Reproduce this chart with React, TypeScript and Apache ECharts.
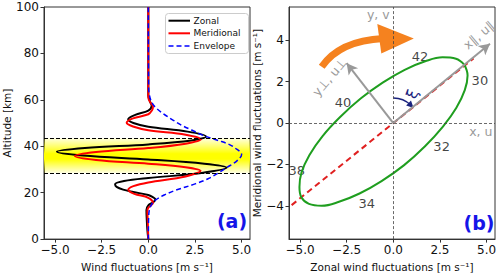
import React, { useEffect, useRef } from "react";
import * as echarts from "echarts";

// ---------- Panel (a): vertical wind profiles ----------
const zonalAlt = [0, 4, 8, 12.5, 14.5, 16, 17.2, 18.2, 19, 20.3, 21.3, 22.5, 23.6, 25, 26.3, 28.5, 30.8, 32.5, 34.3, 36, 37.6, 39.2, 40.8, 42.5, 44.2, 46.3, 48.4, 50, 51.6, 53.5, 55.4, 57.5, 59.5, 62, 100];
const zonalVal = [0, -0.05, -0.08, -0.1, 0, 0.28, 0.38, 0.22, 0, -0.8, -1.35, -1.7, -1.78, -1.3, 0, 2.85, 4.2, 3.0, 0, -3.5, -4.9, -3.4, 0, 2.3, 3.1, 2.1, 0, -0.8, -1.08, -0.7, 0, 0.18, 0.08, 0, 0];

const meridAlt = [0, 8, 12, 13.5, 15.5, 17.8, 19.5, 21.3, 22.8, 24.4, 27, 29.4, 31, 32.5, 34.1, 35.8, 37.5, 39.2, 41.1, 43.0, 45, 46.9, 48.5, 50.1, 52, 53.8, 55.5, 57, 59, 61, 100];
const meridVal = [0, -0.03, -0.05, 0, 0.25, 0, -0.75, -1.07, -0.8, 0, 2.0, 2.8, 2.0, 0, -2.8, -3.93, -2.8, 0, 2.0, 2.82, 2.0, 0, -0.82, -1.16, -0.82, 0, 0.2, 0.25, 0.1, 0, 0];

const envAlt = [0, 10, 12.6, 15, 16.8, 19, 21, 23.9, 26, 28.5, 30.8, 33.7, 36.5, 39.3, 40.7, 42.1, 43.5, 45, 47, 49, 51.2, 54, 56.8, 59, 62, 65, 100];
const envVal = [0, 0.02, 0.06, 0.18, 0.38, 0.85, 1.45, 2.55, 3.2, 3.75, 4.2, 4.75, 5.0, 4.64, 4.35, 3.9, 3.35, 2.85, 2.32, 1.8, 1.34, 0.8, 0.38, 0.18, 0.06, 0.02, 0];

const bandBottom = 28.5;
const bandTop = 43.5;

const legendNames = ["Zonal", "Meridional", "Envelope"];
const legendColors = ["#000000", "#ff0000", "#0000ff"];

const windTicks = [-5, -2.5, 0, 2.5, 5];
const meridTicks = [-4, -2, 0, 2, 4];

// ---------- Panel (b): hodograph ----------
const ellipseU = [3.81, 3.36, 2.64, 1.71, 0.61, -0.57, -1.75, -2.85, -3.8, -4.5, -4.92, -5.03, -4.93, -4.52, -3.84, -2.91, -1.81, -0.63, 0.58, 1.7, 2.66, 3.38, 3.83, 3.98, 3.81];
const ellipseV = [2.81, 3.1, 3.17, 2.98, 2.57, 1.95, 1.18, 0.29, -0.64, -1.55, -2.39, -3.09, -3.58, -3.9, -3.99, -3.8, -3.4, -2.8, -2.03, -1.12, -0.17, 0.74, 1.59, 2.3, 2.81];

const majorAxisU = [-5.45, 4.3];
const majorAxisV = [-3.96, 3.12];

const arrowParallel = [5.18, 3.83];
const arrowPerp = [-2.5, 2.89];

const hodoLabels = ["42", "30", "40", "32", "38", "34"];
const hodoLabelU = [1.43, 4.64, -2.69, 2.59, -5.17, -1.42];
const hodoLabelV = [3.22, 2.04, 1.0, -1.12, -2.3, -3.9];

const FONT = "DejaVu Sans";
const AXIS_COLOR = "#333";

const fmtMinus = (s: string) => s.replace("-", "\u2212");

function makeXAxis(gridIndex: number, name: string) {
  return {
    type: "value",
    gridIndex,
    min: -5.59,
    max: 5.45,
    axisLine: { show: true, onZero: false, lineStyle: { color: AXIS_COLOR, width: 1 } },
    axisTick: { show: true, inside: false, length: 3.5, customValues: windTicks, lineStyle: { color: AXIS_COLOR } },
    axisLabel: {
      customValues: windTicks,
      formatter: (v: number) => fmtMinus(v.toFixed(1)),
      fontSize: 12,
      fontFamily: FONT,
      color: "#111",
      margin: 5,
    },
    splitLine: { show: false },
    name,
    nameLocation: "middle",
    nameGap: 19,
    nameTextStyle: { fontSize: 10.5, fontFamily: FONT, color: "#111" },
  };
}

function buildOption() {
  const zonal = zonalAlt.map((a, i) => [zonalVal[i], a]);
  const merid = meridAlt.map((a, i) => [meridVal[i], a]);
  const env = envAlt.map((a, i) => [envVal[i], a]);
  const ellipse = ellipseU.map((u, i) => [u, ellipseV[i]]);
  const majorAxis = majorAxisU.map((u, i) => [u, majorAxisV[i]]);
  const labelsData = hodoLabels.map((n, i) => ({ name: n, value: [hodoLabelU[i], hodoLabelV[i]] }));

  return {
    animation: false,
    textStyle: { fontFamily: FONT },
    grid: [
      { left: 44, top: 7, width: 206, height: 238, show: true, borderColor: AXIS_COLOR, borderWidth: 1, backgroundColor: "transparent" },
      { left: 289, top: 7, width: 206, height: 238, show: true, borderColor: AXIS_COLOR, borderWidth: 1, backgroundColor: "transparent" },
    ],
    xAxis: [makeXAxis(0, "Wind fluctuations [m s\u207B\u00B9]"), makeXAxis(1, "Zonal wind fluctuations [m s\u207B\u00B9]")],
    yAxis: [
      {
        type: "value",
        gridIndex: 0,
        min: 0,
        max: 100,
        interval: 20,
        axisLine: { show: true, onZero: false, lineStyle: { color: AXIS_COLOR } },
        axisTick: { show: true, inside: false, length: 3.5, lineStyle: { color: AXIS_COLOR } },
        axisLabel: { fontSize: 12, fontFamily: FONT, color: "#111", margin: 5 },
        splitLine: { show: false },
        name: "Altitude [km]",
        nameLocation: "middle",
        nameGap: 30,
        nameTextStyle: { fontSize: 10.5, fontFamily: FONT, color: "#111" },
      },
      {
        type: "value",
        gridIndex: 1,
        min: -5.6,
        max: 5.6,
        axisLine: { show: true, onZero: false, lineStyle: { color: AXIS_COLOR } },
        axisTick: { show: true, inside: false, length: 3.5, customValues: meridTicks, lineStyle: { color: AXIS_COLOR } },
        axisLabel: {
          customValues: meridTicks,
          formatter: (v: number) => fmtMinus(String(v)),
          fontSize: 12,
          fontFamily: FONT,
          color: "#111",
          margin: 5,
        },
        splitLine: { show: false },
        name: "Meridional wind fluctuations [m s\u207B\u00B9]",
        nameLocation: "middle",
        nameGap: 19,
        nameTextStyle: { fontSize: 10.5, fontFamily: FONT, color: "#111" },
      },
    ],
    series: [
      {
        type: "line",
        xAxisIndex: 0,
        yAxisIndex: 0,
        data: [],
        silent: true,
        markArea: {
          silent: true,
          itemStyle: {
            color: {
              type: "linear",
              x: 0, y: 0, x2: 0, y2: 1,
              colorStops: [
                { offset: 0, color: "rgba(255,255,0,0.12)" },
                { offset: 0.25, color: "rgba(255,255,0,0.6)" },
                { offset: 0.45, color: "rgba(255,255,0,1)" },
                { offset: 0.6, color: "rgba(255,255,0,1)" },
                { offset: 0.8, color: "rgba(255,255,0,0.55)" },
                { offset: 1, color: "rgba(255,255,0,0.12)" },
              ],
            },
          },
          data: [[{ yAxis: bandTop }, { yAxis: bandBottom }]],
        },
        markLine: {
          silent: true,
          symbol: "none",
          label: { show: false },
          lineStyle: { color: "#000", type: [4, 2], width: 1 },
          data: [{ yAxis: bandBottom }, { yAxis: bandTop }],
        },
      },
      {
        name: legendNames[0],
        type: "line",
        xAxisIndex: 0,
        yAxisIndex: 0,
        data: zonal,
        smooth: 0.35,
        symbol: "none",
        lineStyle: { color: legendColors[0], width: 2 },
        silent: true,
      },
      {
        name: legendNames[1],
        type: "line",
        xAxisIndex: 0,
        yAxisIndex: 0,
        data: merid,
        smooth: 0.35,
        symbol: "none",
        lineStyle: { color: legendColors[1], width: 2 },
        silent: true,
      },
      {
        name: legendNames[2],
        type: "line",
        xAxisIndex: 0,
        yAxisIndex: 0,
        data: env,
        smooth: 0.35,
        symbol: "none",
        lineStyle: { color: legendColors[2], width: 1.5, type: [5, 3] },
        silent: true,
      },
      // panel b: zero lines
      {
        type: "line",
        xAxisIndex: 1,
        yAxisIndex: 1,
        data: [],
        silent: true,
        markLine: {
          silent: true,
          symbol: "none",
          label: { show: false },
          lineStyle: { color: "#444", type: [3, 2], width: 0.8 },
          data: [{ xAxis: 0 }, { yAxis: 0 }],
        },
      },
      // panel b: rotated axes arrows
      {
        type: "line",
        xAxisIndex: 1,
        yAxisIndex: 1,
        data: [],
        silent: true,
        markLine: {
          silent: true,
          symbol: ["none", "arrow"],
          symbolSize: [9, 11],
          label: { show: false },
          lineStyle: { color: "#999", type: "solid", width: 2 },
          data: [
            [{ coord: [0, 0] }, { coord: arrowParallel }],
            [{ coord: [0, 0] }, { coord: arrowPerp }],
          ],
        },
      },
      {
        type: "line",
        xAxisIndex: 1,
        yAxisIndex: 1,
        data: majorAxis,
        symbol: "none",
        lineStyle: { color: "#e02020", width: 2, type: [6, 4] },
        silent: true,
      },
      {
        type: "line",
        xAxisIndex: 1,
        yAxisIndex: 1,
        data: ellipse,
        smooth: 0.4,
        symbol: "none",
        lineStyle: { color: "#1f9e1f", width: 2 },
        silent: true,
      },
      {
        type: "scatter",
        xAxisIndex: 1,
        yAxisIndex: 1,
        data: labelsData,
        symbolSize: 1,
        itemStyle: { color: "transparent" },
        silent: true,
        label: {
          show: true,
          position: "inside",
          formatter: (p: any) => p.name,
          fontSize: 13,
          fontFamily: FONT,
          color: "#111",
        },
      },
    ],
  };
}

function buildLegend() {
  const els: any[] = [
    {
      type: "rect",
      silent: true,
      shape: { x: 165.5, y: 13.5, width: 83, height: 40, r: 3 },
      style: { fill: "#fff", stroke: "#cccccc", lineWidth: 1 },
    },
  ];
  legendNames.forEach((name, i) => {
    const y = 20.7 + i * 12.6;
    els.push({
      type: "line",
      silent: true,
      shape: { x1: 168.5, y1: y, x2: 190, y2: y },
      style: { stroke: legendColors[i], lineWidth: i === 2 ? 1.5 : 2, lineDash: i === 2 ? [5, 3] : null },
    });
    els.push({
      type: "text",
      silent: true,
      x: 193.5,
      y,
      style: { text: name, fill: "#111", fontSize: 9, fontFamily: FONT, align: "left", verticalAlign: "middle" },
    });
  });
  return els;
}

function buildGraphics(ox: number, oy: number) {
  const gray = "#9a9a9a";
  const navy = "#1a237e";
  const r = 25;
  const a0 = -Math.PI / 2;
  const a1 = -0.8;
  const ex = ox + r * Math.cos(a1);
  const ey = oy + r * Math.sin(a1);
  const tx = -Math.sin(a1);
  const ty = Math.cos(a1);
  const nx = -ty;
  const ny = tx;
  return [
    ...buildLegend(),
    // orange rotation arrow
    {
      type: "bezierCurve",
      silent: true,
      shape: { x1: ox - 71.6, y1: oy - 56.2, cpx1: ox - 60, cpy1: oy - 73, cpx2: ox - 40, cpy2: oy - 83, x2: ox - 10, y2: oy - 84.5 },
      style: { stroke: "#f5821f", lineWidth: 7, fill: null },
    },
    {
      type: "polygon",
      silent: true,
      shape: { points: [[ox - 16, oy - 99], [ox + 20.5, oy - 84.5], [ox - 12, oy - 69.5]] },
      style: { fill: "#f5821f" },
    },
    // xi arc
    {
      type: "arc",
      silent: true,
      shape: { cx: ox, cy: oy, r, startAngle: a0, endAngle: a1, clockwise: true },
      style: { stroke: navy, lineWidth: 1.5, fill: null },
    },
    {
      type: "polygon",
      silent: true,
      shape: {
        points: [
          [ex + 4 * tx, ey + 4 * ty],
          [ex - 3 * tx + 3.5 * nx, ey - 3 * ty + 3.5 * ny],
          [ex - 3 * tx - 3.5 * nx, ey - 3 * ty - 3.5 * ny],
        ],
      },
      style: { fill: navy },
    },
    {
      type: "text",
      silent: true,
      x: ox + 19,
      y: oy - 29,
      rotation: 1.2,
      style: { text: "ξ", fill: navy, fontSize: 15, fontFamily: FONT, align: "center", verticalAlign: "middle" },
    },
    // axis names
    {
      type: "text",
      silent: true,
      x: ox - 15,
      y: oy - 109,
      style: { text: "y, v", fill: gray, fontSize: 12.5, fontFamily: FONT, align: "center", verticalAlign: "middle" },
    },
    {
      type: "text",
      silent: true,
      x: ox + 87.5,
      y: oy + 8,
      style: { text: "x, u", fill: gray, fontSize: 12.5, fontFamily: FONT, align: "center", verticalAlign: "middle" },
    },
    {
      type: "text",
      silent: true,
      x: ox + 85.5,
      y: oy - 88,
      rotation: 0.7,
      style: { text: "x\u2225, u\u2225", fill: gray, fontSize: 12.5, fontFamily: FONT, align: "center", verticalAlign: "middle" },
    },
    {
      type: "text",
      silent: true,
      x: ox - 64,
      y: oy - 46,
      rotation: 0.87,
      style: { text: "y\u22A5, u\u22A5", fill: gray, fontSize: 12.5, fontFamily: FONT, align: "center", verticalAlign: "middle" },
    },
    // panel letters
    {
      type: "text",
      silent: true,
      x: 232,
      y: 221,
      style: { text: "(a)", fill: "#1515e8", fontSize: 19, fontWeight: "bold", fontFamily: FONT, align: "center", verticalAlign: "middle" },
    },
    {
      type: "text",
      silent: true,
      x: 479,
      y: 223,
      style: { text: "(b)", fill: "#1515e8", fontSize: 19, fontWeight: "bold", fontFamily: FONT, align: "center", verticalAlign: "middle" },
    },
  ];
}

export default function App() {
  const ref = useRef<HTMLDivElement>(null);
  useEffect(() => {
    if (!ref.current) return;
    const chart = echarts.init(ref.current, null, { renderer: "svg" });
    chart.setOption(buildOption() as any);
    const o = chart.convertToPixel({ gridIndex: 1 } as any, [0, 0]) as number[];
    chart.setOption({ graphic: buildGraphics(o[0], o[1]) } as any);
    return () => chart.dispose();
  }, []);
  return (
    <div
      ref={ref}
      style={{ position: "absolute", left: 0, top: 0, width: 500, height: 277, background: "#fff" }}
    />
  );
}
